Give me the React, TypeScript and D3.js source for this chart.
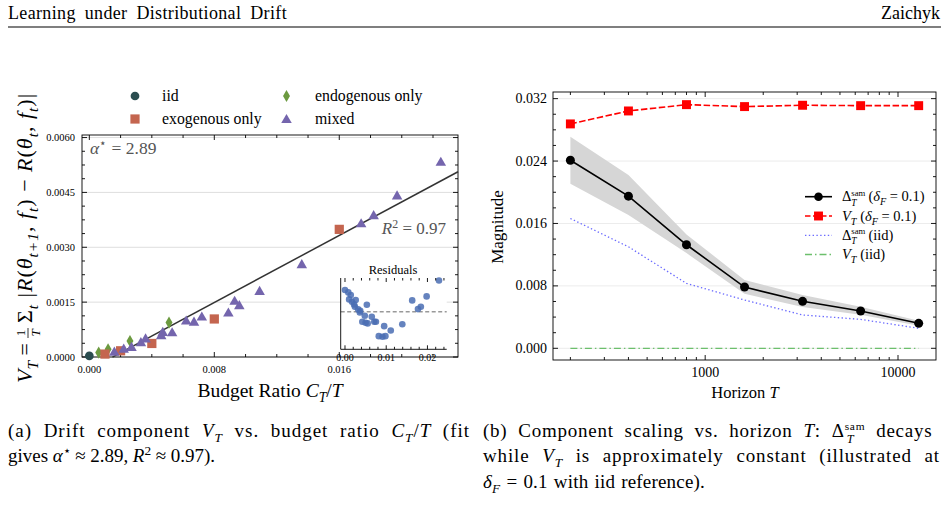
import React, { useLayoutEffect, useRef } from "react";
import * as d3 from "d3";

// ---- left panel data (budget ratio C_T/T vs V_T) ----
const iidPts: [number, number][] = [[0.0, 0.00003]];
const exoPts: [number, number][] = [
  [0.001, 0.00008], [0.002, 0.00017], [0.004, 0.00037], [0.008, 0.00104], [0.016, 0.00349],
];
const endoPts: [number, number][] = [
  [0.0006, 0.00012], [0.0012, 0.00021], [0.0026, 0.00044], [0.0051, 0.00094],
];
const mixedPts: [number, number][] = [
  [0.0016, 0.00012], [0.0022, 0.0002], [0.0027, 0.00025], [0.0033, 0.00038], [0.0036, 0.00048],
  [0.0046, 0.00057], [0.0047, 0.00066], [0.0053, 0.00065], [0.0062, 0.00097], [0.0067, 0.00094],
  [0.0072, 0.00108], [0.0089, 0.00119], [0.0093, 0.00151], [0.0096, 0.00139], [0.0109, 0.00178],
  [0.0136, 0.00251], [0.0174, 0.00363], [0.0182, 0.00385], [0.0197, 0.00439], [0.0225, 0.00531],
];
const fitSlope = 0.229;
const fitIntercept = -0.00034;
const fitRange = [0.00148, 0.0236];

// residuals inset
const residuals: [number, number][] = [
  [0.0, 0.000347], [0.0008, 0.00031], [0.0014, 0.000267], [0.001, 0.000198], [0.0017, 0.00016],
  [0.0026, 0.000187], [0.0022, 0.000118], [0.0024, 0.00008], [0.0032, 0.000038], [0.0037, 0.000016],
  [0.0036, -0.00001], [0.0048, -0.000064], [0.0053, 0.000112], [0.0042, -0.00016], [0.005, -0.000176],
  [0.0055, -0.000186], [0.0065, -0.00008], [0.0071, -0.00016], [0.0075, -0.00016], [0.0082, -0.00039],
  [0.0095, -0.00023], [0.0091, -0.0004], [0.0098, -0.00039], [0.0111, -0.0003], [0.0139, -0.0002],
  [0.0163, 0.000182], [0.0177, 0.000043], [0.0184, 0.00008], [0.0198, 0.000246], [0.0228, 0.0005],
];

// ---- right panel data (horizon T) ----
const horizons = [200, 400, 800, 1600, 3200, 6400, 12800];
const deltaSam = [0.0241, 0.0195, 0.01327, 0.00785, 0.00602, 0.00478, 0.0032];
const deltaLo = [0.0211, 0.0171, 0.0122, 0.007, 0.0053, 0.0043, 0.0029];
const deltaHi = [0.0271, 0.0222, 0.0146, 0.00875, 0.00683, 0.00533, 0.00354];
const vDrift = [0.02876, 0.03042, 0.03123, 0.03098, 0.03115, 0.0311, 0.0311];
const deltaIid = [0.01664, 0.01301, 0.00832, 0.00619, 0.00427, 0.00371, 0.00256];
const vIid = [0, 0, 0, 0, 0, 0, 0];

const leftXMajor = [0, 0.008, 0.016];
const leftYMajor = [0, 0.0015, 0.003, 0.0045, 0.006];
const rightYMajor = [0, 0.008, 0.016, 0.024, 0.032];
const rightXMajor = [1000, 10000];

const SERIF = '"Liberation Serif", "Times New Roman", "DejaVu Serif", serif';

const C = {
  iid: "#2b4d50",
  exo: "#c4654f",
  endo: "#6c9a40",
  mixed: "#7465ad",
  resid: "#4a6db3",
};

// subscript: base, then small shifted script; the text after it resets the baseline
const Sub = ({ b, s, fs, after = "", it = true }: { b: string; s: string; fs: number; after?: string; it?: boolean }) => (
  <>
    <tspan fontStyle={it ? "italic" : "normal"}>{b}</tspan>
    <tspan dy={fs * 0.28} fontSize={fs * 0.7} fontStyle="italic">{s}</tspan>
    {after && <tspan dy={-fs * 0.28}>{after}</tspan>}
  </>
);
const Sup = ({ b, s, fs, after = "", it = true }: { b: string; s: string; fs: number; after?: string; it?: boolean }) => (
  <>
    <tspan fontStyle={it ? "italic" : "normal"}>{b}</tspan>
    <tspan dy={-fs * 0.38} fontSize={fs * 0.7}>{s}</tspan>
    {after && <tspan dy={fs * 0.38}>{after}</tspan>}
  </>
);
const DeltaSam = ({ fs, after }: { fs: number; after: string }) => (
  <>
    <tspan>Δ</tspan>
    <tspan dy={-fs * 0.38} fontSize={fs * 0.6}>sam</tspan>
    <tspan dx={-fs * 0.97} dy={fs * 0.7} fontSize={fs * 0.65} fontStyle="italic">T</tspan>
    <tspan dx={fs * 0.57} dy={-fs * 0.32}>{after}</tspan>
  </>
);

type FrameProps = {
  x0: number; x1: number; y0: number; y1: number;
  xPos: number[]; xMinor: number[]; yPos: number[]; yMinor: number[];
};
const Frame = ({ x0, x1, y0, y1, xPos, xMinor, yPos, yMinor }: FrameProps) => (
  <g stroke="#000" strokeWidth={0.9}>
    <rect x={x0} y={y0} width={x1 - x0} height={y1 - y0} fill="none" />
    {xPos.map((x, i) => (
      <g key={"xM" + i}>
        <line x1={x} x2={x} y1={y1} y2={y1 - 5} />
        <line x1={x} x2={x} y1={y0} y2={y0 + 5} />
      </g>
    ))}
    {xMinor.map((x, i) => (
      <g key={"xm" + i}>
        <line x1={x} x2={x} y1={y1} y2={y1 - 3} />
        <line x1={x} x2={x} y1={y0} y2={y0 + 3} />
      </g>
    ))}
    {yPos.map((y, i) => (
      <g key={"yM" + i}>
        <line x1={x0} x2={x0 + 5} y1={y} y2={y} />
        <line x1={x1} x2={x1 - 5} y1={y} y2={y} />
      </g>
    ))}
    {yMinor.map((y, i) => (
      <g key={"ym" + i}>
        <line x1={x0} x2={x0 + 3} y1={y} y2={y} />
        <line x1={x1} x2={x1 - 3} y1={y} y2={y} />
      </g>
    ))}
  </g>
);

const LeftPanel = () => {
  const x0 = 82, x1 = 458, y0 = 135, y1 = 357;
  const xs = d3.scaleLinear().domain([-0.00047, 0.0236]).range([x0, x1]);
  const ys = d3.scaleLinear().domain([0, 0.00607]).range([y1, y0]);
  const xMinor = d3.range(0, 0.0235, 0.002).filter((v) => !leftXMajor.some((m) => Math.abs(m - v) < 1e-9));
  const yMinor = d3.range(0, 0.00607, 0.000375).filter((v) => !leftYMajor.some((m) => Math.abs(m - v) < 1e-9));
  const tri = d3.symbol(d3.symbolTriangle, 48)()!;
  const sq = d3.symbol(d3.symbolSquare, 85)()!;
  const dia = d3.symbol(d3.symbolDiamond, 42)()!;
  const circ = d3.symbol(d3.symbolCircle, 60)()!;
  const fitLine = d3.line<number>().x((v) => xs(v)).y((v) => ys(fitSlope * v + fitIntercept));

  // inset
  const ix0 = 340.7, ix1 = 446.7, iy0 = 278, iy1 = 349.3;
  const ixs = d3.scaleLinear().domain([-0.00104, 0.02467]).range([ix0, ix1]);
  const iys = d3.scaleLinear().domain([-0.0006, 0.00054]).range([iy1, iy0]);
  const iMajor = [0, 0.01, 0.02];
  const iMinor = d3.range(0.002, 0.0245, 0.002).filter((v) => !iMajor.some((m) => Math.abs(m - v) < 1e-9));

  return (
    <g>
      {/* legend */}
      <g fontSize={15.8}>
        <path d={circ} transform="translate(135,96)" fill={C.iid} />
        <text x={162} y={101}>iid</text>
        <path d={dia} transform="translate(286.5,96)" fill={C.endo} />
        <text x={315} y={101}>endogenous only</text>
        <path d={sq} transform="translate(135,119)" fill={C.exo} />
        <text x={162} y={124}>exogenous only</text>
        <path d={tri} transform="translate(286.5,120)" fill={C.mixed} />
        <text x={315} y={124}>mixed</text>
      </g>
      {/* gridlines */}
      {leftYMajor.map((v) => (
        <line key={v} x1={x0} x2={x1} y1={ys(v)} y2={ys(v)} stroke="#dedede" strokeWidth={1} />
      ))}
      <Frame x0={x0} x1={x1} y0={y0} y1={y1}
        xPos={leftXMajor.map(xs)} xMinor={xMinor.map(xs)}
        yPos={leftYMajor.map(ys)} yMinor={yMinor.map(ys)} />
      {/* tick labels */}
      <g fontSize={10.5}>
        {leftXMajor.map((v) => (
          <text key={v} x={xs(v)} y={373} textAnchor="middle">{v.toFixed(3)}</text>
        ))}
        {leftYMajor.map((v) => (
          <text key={v} x={75} y={ys(v) + 3.5} textAnchor="end">{v.toFixed(4)}</text>
        ))}
      </g>
      {/* fit line */}
      <path d={fitLine(fitRange)!} stroke="#333" strokeWidth={1.5} fill="none" />
      {/* points */}
      {iidPts.map(([a, b], i) => (
        <path key={"i" + i} d={circ} transform={`translate(${xs(a)},${ys(b)})`} fill={C.iid} />
      ))}
      {endoPts.map(([a, b], i) => (
        <path key={"e" + i} d={dia} transform={`translate(${xs(a)},${ys(b)})`} fill={C.endo} />
      ))}
      {exoPts.map(([a, b], i) => (
        <path key={"x" + i} d={sq} transform={`translate(${xs(a)},${ys(b)})`} fill={C.exo} />
      ))}
      {mixedPts.map(([a, b], i) => (
        <path key={"m" + i} d={tri} transform={`translate(${xs(a)},${ys(b)})`} fill={C.mixed} />
      ))}
      {/* annotations */}
      <text x={90} y={154} fontSize={17.5} fill="#555">
        <Sup b="α" s="⋆" fs={17.5} after=" = 2.89" />
      </text>
      <text x={446} y={234} fontSize={17} fill="#555" textAnchor="end">
        <Sup b="R" s="2" fs={17} after=" = 0.97" />
      </text>
      {/* inset */}
      <rect x={ix0} y={iy0} width={ix1 - ix0} height={iy1 - iy0} fill="#fff" />
      <line x1={ix0} x2={ix1} y1={iys(0)} y2={iys(0)} stroke="#999" strokeWidth={1.3} strokeDasharray="4,2.5" />
      {residuals.map(([a, b], i) => (
        <circle key={"r" + i} cx={ixs(a)} cy={iys(b)} r={3.3} fill={C.resid} fillOpacity={0.85} />
      ))}
      <g stroke="#000" strokeWidth={0.9}>
        <line x1={ix0} x2={ix0} y1={iy0} y2={iy1} />
        <line x1={ix0} x2={ix1} y1={iy1} y2={iy1} />
        {iMajor.map((v) => (
          <g key={v}>
            <line x1={ixs(v)} x2={ixs(v)} y1={iy1} y2={iy1 - 4} />
            <line x1={ixs(v)} x2={ixs(v)} y1={iy0} y2={iy0 + 4} />
          </g>
        ))}
        {iMinor.map((v) => (
          <g key={v}>
            <line x1={ixs(v)} x2={ixs(v)} y1={iy1} y2={iy1 - 2.5} />
            <line x1={ixs(v)} x2={ixs(v)} y1={iy0} y2={iy0 + 2.5} />
          </g>
        ))}
      </g>
      <g fontSize={10}>
        {iMajor.map((v) => (
          <text key={v} x={ixs(v)} y={361} textAnchor="middle">{v.toFixed(2)}</text>
        ))}
      </g>
      <text x={393} y={274} fontSize={12.5} textAnchor="middle">Residuals</text>
      {/* axis labels */}
      <text x={270} y={397} fontSize={19.5} textAnchor="middle">
        <tspan>Budget Ratio </tspan>
        <Sub b="C" s="T" fs={19.5} after="/" />
        <tspan fontStyle="italic">T</tspan>
      </text>
      <g transform="translate(32,237) rotate(-90)" fontSize={22}>
        <text x={-146} y={0}>
          <Sub b="V" s="T" fs={22} after=" =" />
        </text>
        <text x={-96} y={-7} fontSize={13} textAnchor="middle">1</text>
        <line x1={-101} x2={-91} y1={-4} y2={-4} stroke="#000" strokeWidth={0.8} />
        <text x={-96} y={7.5} fontSize={13} textAnchor="middle" fontStyle="italic">T</text>
        <text x={-86} y={0} letterSpacing={1}>
          <Sub b="Σ" s="t" fs={22} it={false} after=" |" />
          <tspan fontStyle="italic">R</tspan>
          <tspan>(</tspan>
          <Sub b="θ" s="t+1" fs={22} after=", " />
          <Sub b="f" s="t" fs={22} after=") − " />
          <tspan fontStyle="italic">R</tspan>
          <tspan>(</tspan>
          <Sub b="θ" s="t" fs={22} after=", " />
          <Sub b="f" s="t" fs={22} after=")|" />
        </text>
      </g>
    </g>
  );
};

const RightPanel = () => {
  const x0 = 553, x1 = 936, y0 = 92, y1 = 360;
  const xs = d3.scaleLog().domain([162.5, 15740]).range([x0, x1]);
  const ys = d3.scaleLinear().domain([-0.0015, 0.03285]).range([y1, y0]);
  const xMinor = [200, 300, 400, 500, 600, 700, 800, 900, 2000, 3000, 4000, 5000, 6000, 7000, 8000, 9000];
  const yMinor = d3.range(0, 0.0328, 0.002).filter((v) => !rightYMajor.some((m) => Math.abs(m - v) < 1e-9));
  const line = d3.line<number>().x((_, i) => xs(horizons[i])).y((v) => ys(v));
  const area = d3
    .area<number>()
    .x((_, i) => xs(horizons[i]))
    .y0((_, i) => ys(deltaLo[i]))
    .y1((_, i) => ys(deltaHi[i]));
  const sq = d3.symbol(d3.symbolSquare, 80)()!;
  const fs = 14.5;
  const legendRows = [196.7, 216, 235.3, 254.5];
  return (
    <g>
      {rightYMajor.map((v) => (
        <line key={v} x1={x0} x2={x1} y1={ys(v)} y2={ys(v)} stroke="#ececec" strokeWidth={1} />
      ))}
      <path d={area(deltaHi)!} fill="#d6d6d6" />
      <path d={line(vIid)!} stroke="#6cbf6c" strokeWidth={1.3} strokeDasharray="7,3,1.5,3" fill="none" />
      <path d={line(deltaIid)!} stroke="#6b6bff" strokeWidth={1.3} strokeDasharray="1.4,2.4" fill="none" />
      <path d={line(deltaSam)!} stroke="#000" strokeWidth={1.6} fill="none" />
      {deltaSam.map((v, i) => (
        <circle key={i} cx={xs(horizons[i])} cy={ys(v)} r={4.5} fill="#000" />
      ))}
      <path d={line(vDrift)!} stroke="#ff0000" strokeWidth={1.6} strokeDasharray="6.5,2.5" fill="none" />
      {vDrift.map((v, i) => (
        <path key={i} d={sq} transform={`translate(${xs(horizons[i])},${ys(v)})`} fill="#ff0000" />
      ))}
      <Frame x0={x0} x1={x1} y0={y0} y1={y1}
        xPos={rightXMajor.map(xs)} xMinor={xMinor.map(xs)}
        yPos={rightYMajor.map(ys)} yMinor={yMinor.map(ys)} />
      <g fontSize={14}>
        {rightXMajor.map((v) => (
          <text key={v} x={xs(v)} y={377} textAnchor="middle">{v}</text>
        ))}
        {rightYMajor.map((v) => (
          <text key={v} x={547} y={ys(v) + 4.5} textAnchor="end">{v.toFixed(3)}</text>
        ))}
      </g>
      {/* legend */}
      <g fontSize={fs}>
        <line x1={805} x2={832} y1={legendRows[0]} y2={legendRows[0]} stroke="#000" strokeWidth={1.6} />
        <circle cx={818.5} cy={legendRows[0]} r={4.3} fill="#000" />
        <text x={842} y={legendRows[0] + 4.5}>
          <DeltaSam fs={fs} after=" (" />
          <Sub b="δ" s="F" fs={fs} after=" = 0.1)" />
        </text>
        <line x1={805} x2={832} y1={legendRows[1]} y2={legendRows[1]} stroke="#ff0000" strokeWidth={1.6} strokeDasharray="5.5,2.5" />
        <path d={sq} transform={`translate(818.5,${legendRows[1]})`} fill="#ff0000" />
        <text x={842} y={legendRows[1] + 4.5}>
          <Sub b="V" s="T" fs={fs} after=" (" />
          <Sub b="δ" s="F" fs={fs} after=" = 0.1)" />
        </text>
        <line x1={805} x2={832} y1={legendRows[2]} y2={legendRows[2]} stroke="#6b6bff" strokeWidth={1.3} strokeDasharray="1.4,2.4" />
        <text x={842} y={legendRows[2] + 4.5}>
          <DeltaSam fs={fs} after=" (iid)" />
        </text>
        <line x1={805} x2={832} y1={legendRows[3]} y2={legendRows[3]} stroke="#6cbf6c" strokeWidth={1.3} strokeDasharray="7,3,1.5,3" />
        <text x={842} y={legendRows[3] + 4.5}>
          <Sub b="V" s="T" fs={fs} after=" (iid)" />
        </text>
      </g>
      <text x={745} y={398} fontSize={16.5} textAnchor="middle">
        <tspan>Horizon </tspan>
        <tspan fontStyle="italic">T</tspan>
      </text>
      <text transform="translate(503,227) rotate(-90)" fontSize={17} textAnchor="middle">Magnitude</text>
    </g>
  );
};

const Captions = () => {
  const fs = 19;
  return (
    <g fontSize={fs}>
      <text x={8} y={437} data-justify={462}>
        <tspan>(a) Drift component </tspan>
        <Sub b="V" s="T" fs={fs} after=" vs. budget ratio " />
        <Sub b="C" s="T" fs={fs} after="/" />
        <tspan fontStyle="italic">T</tspan>
        <tspan> (fit</tspan>
      </text>
      <text x={8} y={462} data-justify={207}>
        <tspan>gives </tspan>
        <Sup b="α" s="⋆" fs={fs} after=" ≈ 2.89, " />
        <Sup b="R" s="2" fs={fs} after=" ≈ 0.97)." />
      </text>
      <text x={483} y={437} data-justify={457}>
        <tspan>(b) Component scaling vs. horizon </tspan>
        <tspan fontStyle="italic">T</tspan>
        <tspan>: </tspan>
        <DeltaSam fs={fs} after=" decays" />
      </text>
      <text x={483} y={462} data-justify={457}>
        <tspan>while </tspan>
        <Sub b="V" s="T" fs={fs} after=" is approximately constant (illustrated at" />
      </text>
      <text x={483} y={488} data-justify={222}>
        <Sub b="δ" s="F" fs={fs} after=" = 0.1 with iid reference)." />
      </text>
    </g>
  );
};

export default function App() {
  const ref = useRef<SVGSVGElement>(null);
  // stretch caption lines to the target width: half in letter spacing, half in word spacing
  useLayoutEffect(() => {
    if (!ref.current) return;
    d3.select(ref.current)
      .selectAll<SVGTextElement, unknown>("text[data-justify]")
      .each(function () {
        const target = +(this.getAttribute("data-justify") || 0);
        const len = this.getComputedTextLength();
        const txt = this.textContent || "";
        const spaces = txt.split(" ").length - 1;
        const diff = target - len;
        const share = spaces > 0 ? 0.5 : 1;
        this.setAttribute("letter-spacing", String((diff * share) / txt.length));
        if (spaces > 0) this.setAttribute("word-spacing", String((diff * (1 - share)) / spaces));
      });
  }, []);
  return (
    <svg ref={ref} width={949} height={516} fontFamily={SERIF}
      style={{ position: "absolute", left: 0, top: 0, background: "#fff", fontFamily: SERIF }}>
      <rect width={949} height={516} fill="#fff" />
      <text x={8} y={19} fontSize={18} data-justify={279}>
        Learning under Distributional Drift
      </text>
      <text x={940} y={19} fontSize={18} textAnchor="end">Zaichyk</text>
      <line x1={8} x2={941} y1={27} y2={27} stroke="#000" strokeWidth={1.2} />
      <LeftPanel />
      <RightPanel />
      <Captions />
    </svg>
  );
}
